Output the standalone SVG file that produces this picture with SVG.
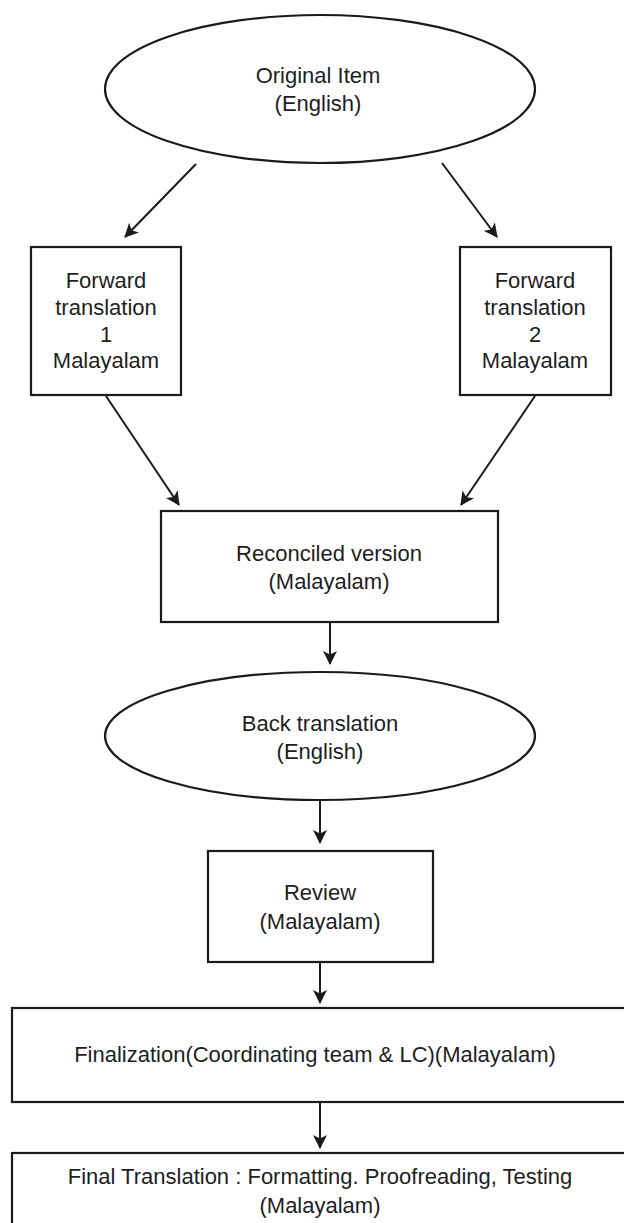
<svg xmlns="http://www.w3.org/2000/svg" width="624" height="1223" viewBox="0 0 624 1223">
<style>
.shape{fill:#fff;stroke:#1a1a1a;stroke-width:2.2}
.t{font-family:"Liberation Sans",Arial,sans-serif;font-size:22px;fill:#1e1e1e;text-anchor:middle}
.c{stroke:#1a1a1a;stroke-width:2;fill:none;marker-end:url(#ah)}
</style>
<defs>
<marker id="ah" viewBox="0 0 14 14" refX="13" refY="7" markerWidth="14" markerHeight="14" markerUnits="userSpaceOnUse" orient="auto">
<path d="M0,0 L14,7 L0,14 L3.5,7 z" fill="#1a1a1a"/>
</marker>
</defs>
<rect width="624" height="1223" fill="#fff"/>
<g id="connectors">
<line class="c" x1="196" y1="164" x2="125" y2="237"/>
<line class="c" x1="442" y1="163" x2="497" y2="237"/>
<line class="c" x1="106" y1="396" x2="179" y2="505"/>
<line class="c" x1="535" y1="396" x2="461" y2="505"/>
<line class="c" x1="330" y1="623" x2="330" y2="664"/>
<line class="c" x1="320" y1="801" x2="320" y2="843"/>
<line class="c" x1="320" y1="963" x2="320" y2="1003"/>
<line class="c" x1="320" y1="1103" x2="320" y2="1148"/>
</g>
<g id="original">
<ellipse class="shape" cx="320" cy="89" rx="215" ry="74"/>
<text class="t" x="318" y="83">Original Item</text>
<text class="t" x="318" y="111">(English)</text>
</g>
<g id="forward1">
<rect class="shape" x="31" y="247" width="150" height="148"/>
<text class="t" x="106" y="288">Forward</text>
<text class="t" x="106" y="315">translation</text>
<text class="t" x="106" y="342">1</text>
<text class="t" x="106" y="368">Malayalam</text>
</g>
<g id="forward2">
<rect class="shape" x="460" y="247" width="151" height="148"/>
<text class="t" x="535" y="288">Forward</text>
<text class="t" x="535" y="315">translation</text>
<text class="t" x="535" y="342">2</text>
<text class="t" x="535" y="368">Malayalam</text>
</g>
<g id="reconciled">
<rect class="shape" x="161" y="511" width="337" height="111"/>
<text class="t" x="329" y="561">Reconciled version</text>
<text class="t" x="329" y="589">(Malayalam)</text>
</g>
<g id="back">
<ellipse class="shape" cx="320" cy="736" rx="215" ry="64"/>
<text class="t" x="320" y="731">Back translation</text>
<text class="t" x="320" y="759">(English)</text>
</g>
<g id="review">
<rect class="shape" x="208" y="851" width="225" height="111"/>
<text class="t" x="320" y="900">Review</text>
<text class="t" x="320" y="929">(Malayalam)</text>
</g>
<g id="finalization">
<rect class="shape" x="12" y="1008" width="620" height="94"/>
<text class="t" x="315" y="1062">Finalization(Coordinating team &amp; LC)(Malayalam)</text>
</g>
<g id="final">
<rect class="shape" x="12" y="1153" width="620" height="90"/>
<text class="t" x="320" y="1184">Final Translation : Formatting. Proofreading, Testing</text>
<text class="t" x="320" y="1213">(Malayalam)</text>
</g>
</svg>
